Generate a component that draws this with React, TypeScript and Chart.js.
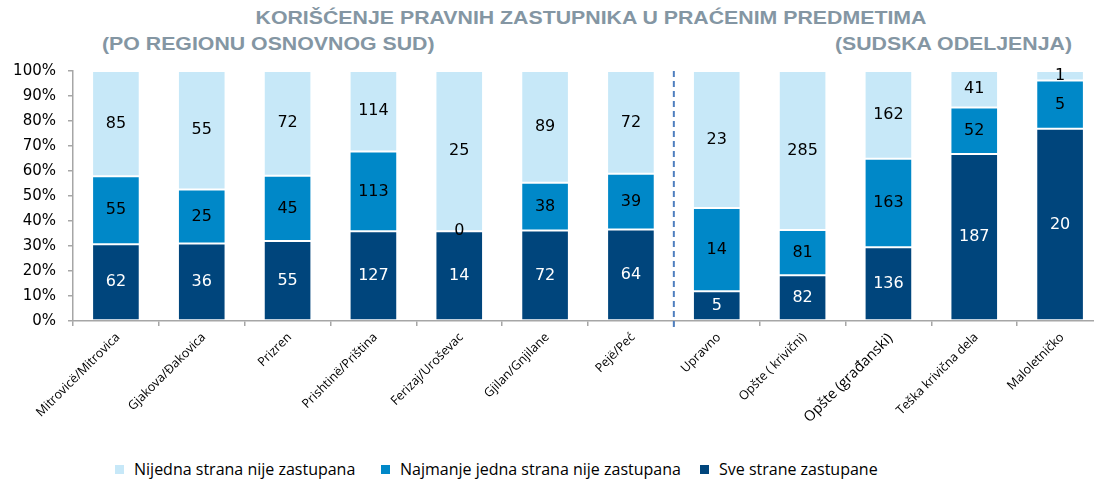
import React, { useEffect, useRef } from "react";
import { Chart, registerables } from "chart.js";
Chart.register(...registerables);

const titleLine1 = "KORIŠĆENJE PRAVNIH ZASTUPNIKA U PRAĆENIM PREDMETIMA";
const titleLeft = "(PO REGIONU OSNOVNOG SUD)";
const titleRight = "(SUDSKA ODELJENJA)";

const categories = [
  "Mitrovicë/Mitrovica",
  "Gjakova/Đakovica",
  "Prizren",
  "Prishtinë/Priština",
  "Ferizaj/Uroševac",
  "Gjilan/Gnjilane",
  "Pejë/Peć",
  "Upravno",
  "Opšte ( krivični)",
  "Opšte (građanski)",
  "Teška krivična dela",
  "Maloletničko",
];
const sveStrane = [62, 36, 55, 127, 14, 72, 64, 5, 82, 136, 187, 20];
const najmanjeJedna = [55, 25, 45, 113, 0, 38, 39, 14, 81, 163, 52, 5];
const nijedna = [85, 55, 72, 114, 25, 89, 72, 23, 285, 162, 41, 1];
const seriesNames = [
  "Sve strane zastupane",
  "Najmanje jedna strana nije zastupana",
  "Nijedna strana nije zastupana",
];
const seriesColors = ["#00457c", "#0088c8", "#c7e8f8"];
const labelColors = ["#ffffff", "#000000", "#000000"];
const dividerAfterIndex = 6;

const counts = [sveStrane, najmanjeJedna, nijedna];
const totals = categories.map((_, j) => counts.reduce((s, arr) => s + arr[j], 0));

const valueLabelPlugin = {
  id: "valueLabels",
  afterDatasetsDraw(chart: any) {
    const ctx = chart.ctx;
    ctx.save();
    ctx.font = "16px 'DejaVu Sans', Verdana, sans-serif";
    ctx.textAlign = "center";
    ctx.textBaseline = "middle";
    chart.data.datasets.forEach((ds: any, i: number) => {
      const meta = chart.getDatasetMeta(i);
      meta.data.forEach((bar: any, j: number) => {
        const cy = (bar.y + bar.base) / 2;
        ctx.fillStyle = labelColors[i];
        ctx.fillText(String(counts[i][j]), bar.x, cy);
      });
    });
    ctx.restore();
  },
};

const dividerPlugin = {
  id: "divider",
  afterDatasetsDraw(chart: any) {
    const xs = chart.scales.x;
    const x =
      (xs.getPixelForValue(dividerAfterIndex) + xs.getPixelForValue(dividerAfterIndex + 1)) / 2;
    const ctx = chart.ctx;
    ctx.save();
    ctx.strokeStyle = "#4f7fbf";
    ctx.lineWidth = 2;
    ctx.setLineDash([6, 4]);
    ctx.beginPath();
    ctx.moveTo(x, chart.chartArea.top);
    ctx.lineTo(x, chart.chartArea.bottom + 6);
    ctx.stroke();
    ctx.restore();
  },
};

function App() {
  const ref = useRef<HTMLCanvasElement | null>(null);
  useEffect(() => {
    if (!ref.current) return;
    const chart = new Chart(ref.current, {
      type: "bar",
      data: {
        labels: categories,
        datasets: counts.map((arr, i) => ({
          label: seriesNames[i],
          data: arr.map((v, j) => (v / totals[j]) * 100),
          backgroundColor: seriesColors[i],
          borderColor: "rgba(255,255,255,0.35)",
          borderWidth: 1,
          borderSkipped: false,
          categoryPercentage: 1,
          barPercentage: 0.555,
        })),
      },
      options: {
        responsive: false,
        animation: false,
        layout: { padding: { top: 9, left: 0, right: 0, bottom: 0 } },
        plugins: {
          legend: { display: false },
          tooltip: { enabled: false },
          title: { display: false },
        },
        scales: {
          x: {
            stacked: true,
            afterFit: (s: any) => {
              s.height = 129;
            },
            grid: {
              display: true,
              drawOnChartArea: false,
              offset: true,
              tickLength: 5,
              color: "#a6a6a6",
              lineWidth: 1.5,
            },
            border: { display: true, color: "#a6a6a6", width: 1.5 },
            ticks: {
              autoSkip: false,
              minRotation: 45,
              maxRotation: 45,
              padding: 4,
              labelOffset: 2,
              color: "#000",
              font: (c: any) => ({
                family: "'Open Sans', sans-serif",
                size: c.index === 9 ? 14.5 : 12.5,
              }),
            },
          },
          y: {
            stacked: true,
            min: 0,
            max: 100,
            afterFit: (s: any) => {
              s.width = 73;
            },
            grid: {
              display: true,
              drawOnChartArea: false,
              tickLength: 5,
              color: "#a6a6a6",
              lineWidth: 1.5,
            },
            border: { display: true, color: "#a6a6a6", width: 1.5 },
            ticks: {
              stepSize: 10,
              padding: 12,
              color: "#000",
              font: { family: "'DejaVu Sans', Verdana, sans-serif", size: 15 },
              callback: (v: any) => v + "%",
            },
          },
        },
      },
      plugins: [valueLabelPlugin, dividerPlugin],
    });
    return () => chart.destroy();
  }, []);

  const titleStyle: React.CSSProperties = {
    position: "absolute",
    fontFamily: "'Liberation Sans', Arial, sans-serif",
    fontWeight: "bold",
    fontSize: 21.3,
    color: "#8496a3",
    whiteSpace: "nowrap",
    lineHeight: "24px",
    transform: "scale(1, 0.9)",
    transformOrigin: "top",
  };
  const legendItems = [
    { name: seriesNames[2], color: seriesColors[2], left: 115 },
    { name: seriesNames[1], color: seriesColors[1], left: 381 },
    { name: seriesNames[0], color: seriesColors[0], left: 700 },
  ];

  return (
    <div
      style={{
        position: "absolute",
        left: 0,
        top: 0,
        width: 1094,
        height: 481,
        overflow: "hidden",
        background: "#fff",
      }}
    >
      <div style={{ ...titleStyle, top: 7, left: 0, width: 1182, textAlign: "center" }}>
        {titleLine1}
      </div>
      <div style={{ ...titleStyle, top: 33, left: 102 }}>{titleLeft}</div>
      <div style={{ ...titleStyle, top: 33, right: 22 }}>{titleRight}</div>
      <canvas
        ref={ref}
        width={1103}
        height={400}
        style={{ position: "absolute", left: 0, top: 50, width: 1103, height: 400 }}
      />
      {legendItems.map((it) => (
        <div
          key={it.name}
          style={{
            position: "absolute",
            left: it.left,
            top: 458,
            height: 22,
            display: "flex",
            alignItems: "center",
            fontFamily: "'Open Sans', sans-serif",
            fontSize: 16,
            color: "#000",
            whiteSpace: "nowrap",
          }}
        >
          <span
            style={{
              display: "inline-block",
              width: 9,
              height: 9,
              background: it.color,
              marginRight: 10,
            }}
          />
          {it.name}
        </div>
      ))}
    </div>
  );
}

export default App;
